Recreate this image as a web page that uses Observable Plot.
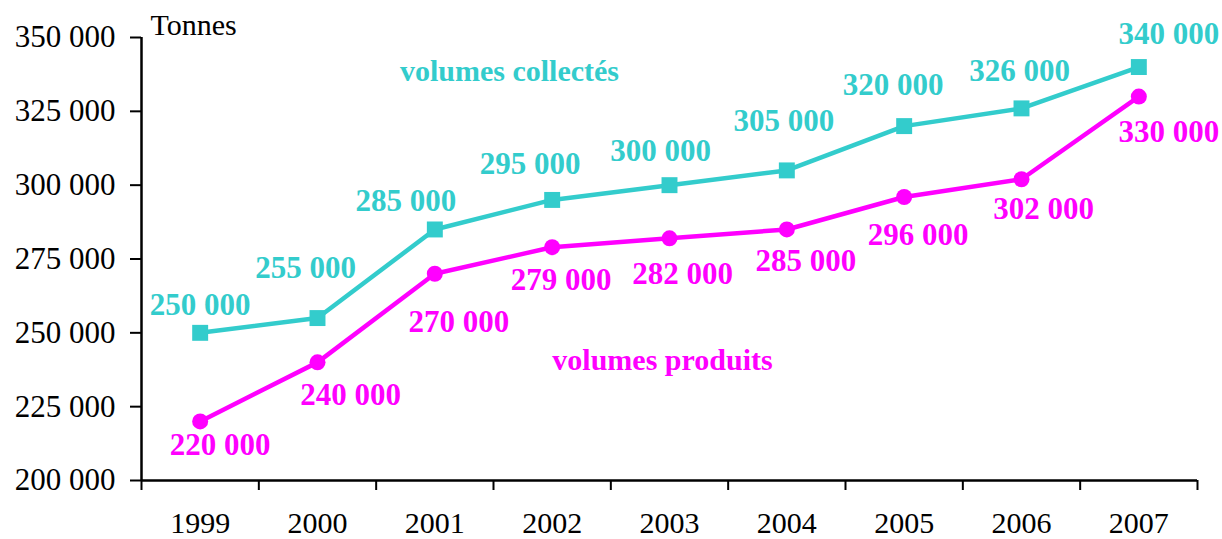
<!DOCTYPE html>
<html><head><meta charset="utf-8">
<script src="https://cdn.jsdelivr.net/npm/d3@7"></script>
<script src="https://cdn.jsdelivr.net/npm/@observablehq/plot@0.6"></script>
<style>body{margin:0;background:#fff}</style>
</head><body><div id="chart"></div>
<script>
const years = [1999, 2000, 2001, 2002, 2003, 2004, 2005, 2006, 2007];
const collectes = [250000, 255000, 285000, 295000, 300000, 305000, 320000, 326000, 340000];
const produits = [220000, 240000, 270000, 279000, 282000, 285000, 296000, 302000, 330000];
const yTicks = [200000, 225000, 250000, 275000, 300000, 325000, 350000];
const unitLabel = "Tonnes";
const nameCollectes = "volumes collectés";
const nameProduits = "volumes produits";

// layout offsets for value labels (pixels)
const offC = [[0,-28],[-12,-50],[-29,-28],[-22,-36],[-9,-34],[-3,-49],[-11,-41],[-2,-37],[30,-33]];
const offP = [[20,24],[33,33],[24,48],[9,33],[13,36],[19,32],[14,38],[22,30],[30,36]];

const TEAL = "#33CCCC", MAG = "#FF00FF";
const fmt = d => d3.format(",")(d).replace(/,/g, " ");
const dC = years.map((y, i) => ({year: y, v: collectes[i], i}));
const dP = years.map((y, i) => ({year: y, v: produits[i], i}));
const bounds = d3.range(years[0] - 0.5, years[years.length - 1] + 1, 1);

const labelMarks = (data, offs, color) => data.map((d, i) =>
  Plot.text([d], {x: "year", y: "v", text: d => fmt(d.v), fill: color, fontWeight: "bold",
    fontSize: 31, dx: offs[i][0], dy: offs[i][1]}));

const chart = Plot.plot({
  width: 1222, height: 539,
  marginLeft: 141, marginRight: 25, marginTop: 37, marginBottom: 59,
  style: {fontFamily: "'Liberation Serif', 'Times New Roman', serif", fontSize: "30px", color: "#000", background: "#fff", overflow: "visible"},
  x: {type: "linear", domain: [years[0] - 0.5, years[years.length - 1] + 0.5]},
  y: {domain: [200000, 350000]},
  marks: [
    Plot.axisY(yTicks, {tickFormat: fmt, tickSize: 11, tickPadding: 15, strokeWidth: 2, label: null, fontSize: 31}),
    Plot.axisX(bounds, {tickFormat: () => "", tickSize: 10, strokeWidth: 2, label: null}),
    Plot.axisX(years, {tickFormat: d => String(d), tickSize: 0, tickPadding: 31, label: null, fontSize: 30}),
    Plot.ruleX([years[0] - 0.5], {strokeWidth: 2.5, stroke: "#000"}),
    Plot.ruleY([200000], {strokeWidth: 2.5, stroke: "#000"}),
    Plot.line(dC, {x: "year", y: "v", stroke: TEAL, strokeWidth: 4.5}),
    Plot.line(dP, {x: "year", y: "v", stroke: MAG, strokeWidth: 4.5}),
    Plot.dot(dC, {x: "year", y: "v", symbol: "square", r: 9, fill: TEAL}),
    Plot.dot(dP, {x: "year", y: "v", symbol: "circle", r: 8, fill: MAG}),
    ...labelMarks(dC, offC, TEAL),
    ...labelMarks(dP, offP, MAG),
    Plot.text([unitLabel], {frameAnchor: "top-left", lineAnchor: "middle", dx: 9, dy: -12, text: d => d, fontSize: 30, textAnchor: "start"}),
    Plot.text([nameCollectes], {x: 2001.636, y: 338690, text: d => d, fill: TEAL, fontWeight: "bold", fontSize: 30}),
    Plot.text([nameProduits], {x: 2002.94, y: 240835, text: d => d, fill: MAG, fontWeight: "bold", fontSize: 30})
  ]
});
document.getElementById("chart").appendChild(chart);
</script></body></html>
